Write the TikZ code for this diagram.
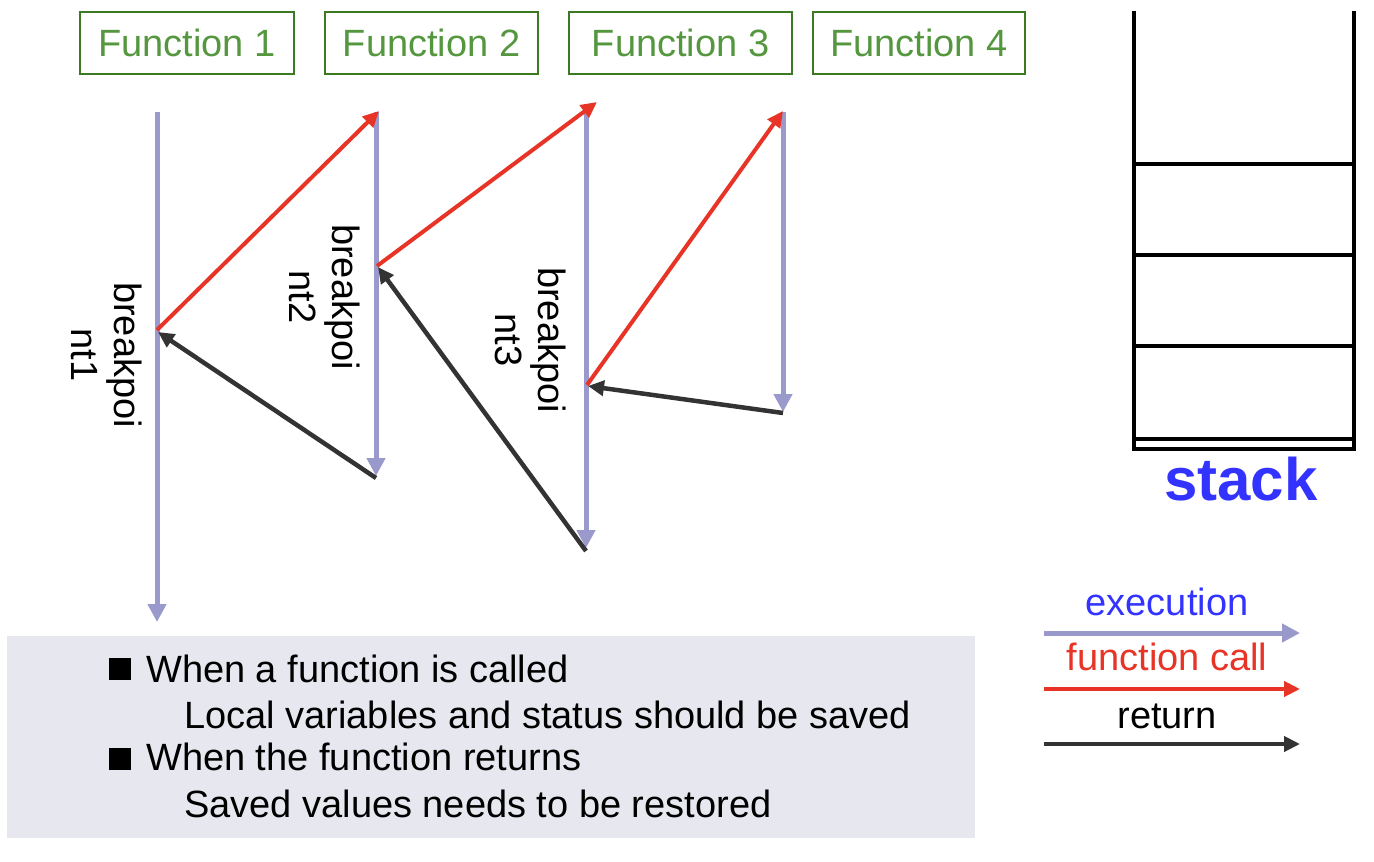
\documentclass[tikz,border=0pt]{standalone}
\usepackage{fontspec}
\setmainfont{Liberation Sans}
\usetikzlibrary{arrows.meta}
\definecolor{lav}{HTML}{9999CC}
\definecolor{callred}{HTML}{E83426}
\definecolor{retblack}{HTML}{333333}
\definecolor{fgreen}{HTML}{3B7A23}
\definecolor{ftext}{HTML}{55973F}
\definecolor{bluetxt}{HTML}{3333FF}
\definecolor{boxgray}{HTML}{E7E7EF}
\begin{document}
\begin{tikzpicture}[x=1pt,y=-1pt,
  every node/.style={font=\fontsize{38}{43}\selectfont, inner sep=0pt},
  exec/.style={draw=lav, line width=5pt, -{Triangle[width=18pt,length=18pt]}},
  callarr/.style={draw=callred, line width=4pt, -{Triangle[width=15pt,length=16pt]}},
  retarr/.style={draw=retblack, line width=4.5pt, -{Triangle[width=15pt,length=16pt]}},
  fbox/.style={draw=fgreen, line width=2pt, text=ftext, minimum height=62pt},
  bplabel/.style={rotate=-90, align=center},
  stackline/.style={draw=black, line width=4.5pt}]
\useasboundingbox (0,0) rectangle (1374,862);

% function boxes
\node[fbox, minimum width=214pt] (f1) at (187,43) {Function 1};
\node[fbox, minimum width=213pt] (f2) at (431.5,43) {Function 2};
\node[fbox, minimum width=223pt] (f3) at (680.5,43) {Function 3};
\node[fbox, minimum width=212pt] (f4) at (919,43) {Function 4};

% coordinates
\coordinate (t1) at (157,112); \coordinate (e1) at (157,622);
\coordinate (t2) at (376,112); \coordinate (e2) at (376,476);
\coordinate (t3) at (586,112); \coordinate (e3) at (586,548);
\coordinate (t4) at (783,112); \coordinate (e4) at (783,412);
\coordinate (bp1) at (157,330);
\coordinate (bp2) at (377,266);
\coordinate (bp3) at (587,385);
\coordinate (c1end) at (379,111);
\coordinate (c2end) at (597,102);
\coordinate (c3end) at (783,111);
\coordinate (r1s) at (376,478); \coordinate (r1e) at (158,332);
\coordinate (r2s) at (586,551); \coordinate (r2e) at (378,267);
\coordinate (r3s) at (783,413); \coordinate (r3e) at (588,386);

% execution lines
\draw[exec] (t1) -- (e1);
\draw[exec] (t2) -- (e2);
\draw[exec] (t3) -- (e3);
\draw[exec] (t4) -- (e4);

% calls
\draw[callarr] (bp1) -- (c1end);
\draw[callarr] (bp2) -- (c2end);
\draw[callarr] (bp3) -- (c3end);

% returns
\draw[retarr] (r1s) -- (r1e);
\draw[retarr] (r2s) -- (r2e);
\draw[retarr] (r3s) -- (r3e);

% breakpoint labels
\node[bplabel] (lab1) at (107,355) {breakpoi\\nt1};
\node[bplabel] (lab2) at (325,297) {breakpoi\\nt2};
\node[bplabel] (lab3) at (531,340) {breakpoi\\nt3};

% stack
\draw[stackline] (1134,11) -- (1134,451);
\draw[stackline] (1354,11) -- (1354,451);
\draw[stackline] (1134,164) -- (1354,164);
\draw[stackline] (1134,255) -- (1354,255);
\draw[stackline] (1134,346) -- (1354,346);
\draw[stackline] (1134,439) -- (1354,439);
\draw[stackline] (1134,449) -- (1354,449);
\node[anchor=base, text=bluetxt, font=\fontsize{60}{70}\selectfont\bfseries] (stacklab) at (1241,500) {stack};

% legend
\coordinate (l1s) at (1044,633); \coordinate (l1e) at (1300,633);
\coordinate (l2s) at (1044,689); \coordinate (l2e) at (1300,689);
\coordinate (l3s) at (1044,744); \coordinate (l3e) at (1300,744);
\draw[exec, line width=5pt] (l1s) -- (l1e);
\draw[callarr] (l2s) -- (l2e);
\draw[retarr] (l3s) -- (l3e);
\node[text=bluetxt] (legexec) at (1167,602) {execution};
\node[text=callred] (legcall) at (1167,657) {function call};
\node[text=black] (legret) at (1167,716) {return};

% bottom box
\fill[boxgray] (7,636) rectangle (975,838);
\fill[black] (109,658) rectangle (131,680);
\fill[black] (109,748) rectangle (131,770);
\node[anchor=base west] (txt1) at (146,682) {When a function is called};
\node[anchor=base west] (txt2) at (184,728) {Local variables and status should be saved};
\node[anchor=base west] (txt3) at (146,770) {When the function returns};
\node[anchor=base west] (txt4) at (184,817) {Saved values needs to be restored};
\end{tikzpicture}
\end{document}
